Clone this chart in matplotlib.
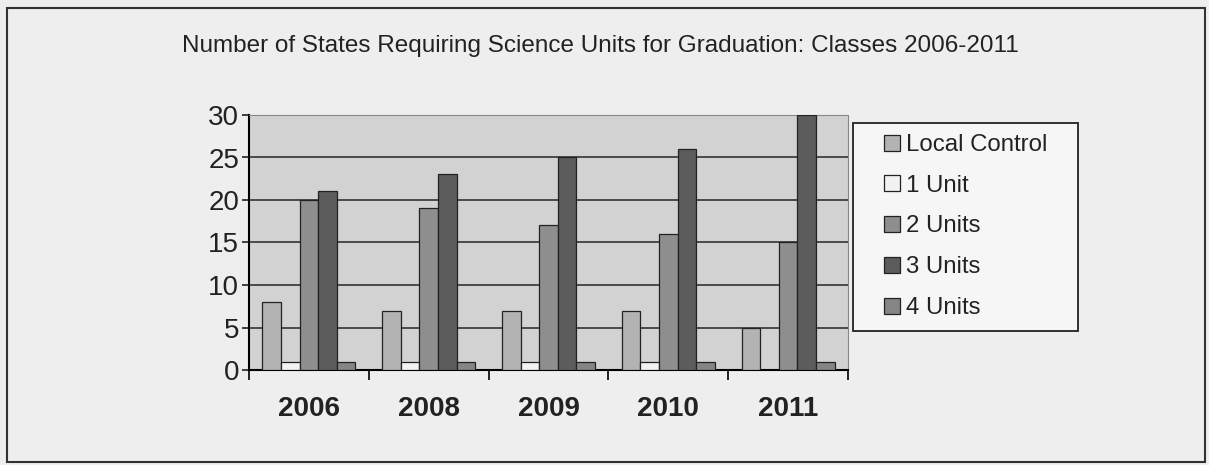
import matplotlib
matplotlib.use("Agg")
import matplotlib.pyplot as plt
import numpy as np
from matplotlib.patches import Rectangle

years = ["2006", "2008", "2009", "2010", "2011"]
series_names = ["Local Control", "1 Unit", "2 Units", "3 Units", "4 Units"]
local_control = [8, 7, 7, 7, 5]
one_unit = [1, 1, 1, 1, 0]
two_units = [20, 19, 17, 16, 15]
three_units = [21, 23, 25, 26, 30]
four_units = [1, 1, 1, 1, 1]
series_values = [local_control, one_unit, two_units, three_units, four_units]
colors = ["#b3b3b3", "#f2f2f2", "#8e8e8e", "#5c5c5c", "#858585"]

plt.rcParams['font.family'] = ['Liberation Sans', 'DejaVu Sans']

W, H = 1209, 465
fig = plt.figure(figsize=(W / 100, H / 100), dpi=100)
fig.patch.set_facecolor("#eeeeee")
# outer frame
fig.add_artist(Rectangle((7/W, 3/H), 1198/W, 454/H, transform=fig.transFigure,
                         fill=False, edgecolor="#333333", linewidth=1.5))

ax = fig.add_axes([249/W, 95/H, 599/W, 255/H])
ax.set_facecolor("#d2d2d2")

x = np.arange(len(years))
w = 0.155
for i, (name, vals, c) in enumerate(zip(series_names, series_values, colors)):
    ax.bar(x + (i - 2) * w, vals, width=w, color=c, edgecolor="#222222",
           linewidth=0.9, label=name, zorder=3)

ax.set_ylim(0, 30)
ax.set_xlim(-0.5, len(years) - 0.5)
ax.set_yticks(range(0, 31, 5))
ax.yaxis.grid(True, color="#333333", linewidth=1.2, zorder=0)
ax.set_axisbelow(True)
ax.tick_params(axis='y', labelsize=20, length=5, width=1.2, pad=2, colors="#222222")
ax.set_xticks(x)
ax.set_xticklabels(years, fontsize=20, fontweight='bold', color="#222222")
ax.tick_params(axis='x', length=0, pad=19)
ax.set_xticks(np.arange(-0.5, len(years), 1), minor=True)
ax.tick_params(axis='x', which='minor', length=7, width=1.2, direction='out')
for s in ["top", "right"]:
    ax.spines[s].set_color("#888888")
    ax.spines[s].set_linestyle((0, (1, 1)))
ax.spines["left"].set_linewidth(1.5)
ax.spines["bottom"].set_linewidth(1.5)

fig.text(600/W, 1 - 46/H, "Number of States Requiring Science Units for Graduation: Classes 2006-2011",
         ha="center", va="center", fontsize=17.5, color="#222222")

# legend frame
fig.add_artist(Rectangle((853/W, 1 - 331/H), 225/W, 208/H, transform=fig.transFigure,
                         facecolor="#f6f6f6", edgecolor="#222222", linewidth=1.3, zorder=1))
leg = fig.legend(loc="upper left", bbox_to_anchor=(884/W, 1 - 134/H),
                 bbox_transform=fig.transFigure, fontsize=17.3, frameon=False,
                 handlelength=0.65, handleheight=0.65, handletextpad=0.25,
                 labelspacing=0.78, borderpad=0.0, borderaxespad=0)
leg.set_zorder(2)
for t in leg.get_texts():
    t.set_color("#222222")

fig.savefig("out.png", dpi=100, facecolor=fig.get_facecolor())
